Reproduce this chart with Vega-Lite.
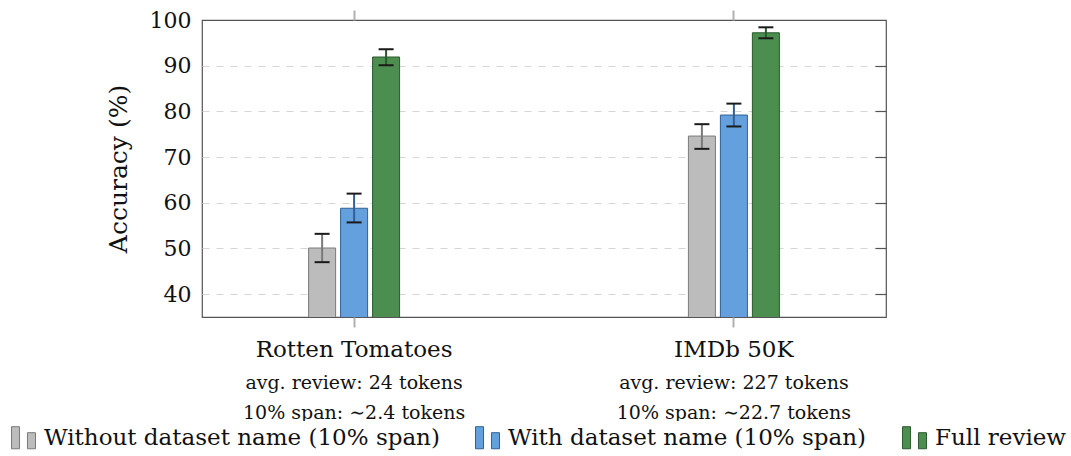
{
  "$schema": "https://vega.github.io/schema/vega-lite/v6.json",
  "width": 684,
  "height": 297,
  "autosize": {"type": "none"},
  "padding": {"left": 202, "top": 20, "right": 185, "bottom": 139},
  "background": "white",
  "config": {
    "view": {"stroke": "#555555", "strokeWidth": 1.2},
    "font": "DejaVu Serif",
    "legend": {
      "orient": "none",
      "legendX": -195,
      "legendY": 401,
      "direction": "horizontal",
      "columns": 3,
      "symbolType": "M-1,-0.92H-0.33V0.92H-1Z M0.33,-0.42H1V0.92H0.33Z",
      "symbolSize": 576,
      "symbolStrokeWidth": 1,
      "symbolOpacity": 1,
      "labelFont": "DejaVu Serif",
      "labelFontSize": 23,
      "labelColor": "#111111",
      "labelOffset": 8,
      "labelLimit": 1000,
      "columnPadding": 33,
      "fillColor": "white",
      "padding": 4
    }
  },
  "data": {
    "values": [
      {"dataset": "Rotten Tomatoes", "series": "Without dataset name (10% span)", "acc": 50.1, "lo": 47.0, "hi": 53.2},
      {"dataset": "Rotten Tomatoes", "series": "With dataset name (10% span)", "acc": 58.8, "lo": 55.7, "hi": 62.0},
      {"dataset": "Rotten Tomatoes", "series": "Full review", "acc": 91.9, "lo": 90.1, "hi": 93.6},
      {"dataset": "IMDb 50K", "series": "Without dataset name (10% span)", "acc": 74.6, "lo": 71.8, "hi": 77.2},
      {"dataset": "IMDb 50K", "series": "With dataset name (10% span)", "acc": 79.2, "lo": 76.7, "hi": 81.7},
      {"dataset": "IMDb 50K", "series": "Full review", "acc": 97.2, "lo": 96.0, "hi": 98.4}
    ]
  },
  "layer": [
    {
      "mark": {"type": "bar", "strokeWidth": 1, "clip": true},
      "encoding": {
        "x": {"field": "dataset", "type": "nominal", "sort": ["Rotten Tomatoes", "IMDb 50K"],
          "scale": {"paddingInner": 0.747, "paddingOuter": 0.274},
          "axis": {"orient": "bottom", "title": null, "labelAngle": 0, "labelFont": "DejaVu Serif", "labelFontSize": 23, "labelColor": "#111111", "labelLimit": 1000, "domain": false, "ticks": true, "tickSize": 10, "tickColor": "#b0b0b0", "tickWidth": 2, "labelPadding": 11, "grid": false, "bandPosition": 0.5}},
        "xOffset": {"field": "series", "type": "nominal", "sort": ["Without dataset name (10% span)", "With dataset name (10% span)", "Full review"],
          "scale": {"paddingInner": 0.156, "paddingOuter": 0.08}},
        "y": {"field": "acc", "type": "quantitative",
          "scale": {"domain": [35, 100], "nice": false, "zero": false},
          "axis": {"orient": "left", "values": [40, 50, 60, 70, 80, 90, 100], "title": "Accuracy (%)", "titleFont": "DejaVu Serif", "titleFontSize": 25, "titleFontWeight": "normal", "titleColor": "#111111", "titlePadding": 18, "labelFont": "DejaVu Serif", "labelFontSize": 22, "labelColor": "#111111", "labelPadding": 11, "ticks": false, "domain": false, "grid": true, "gridDash": [7, 7],
            "gridColor": {"condition": {"test": "datum.value === 100", "value": "transparent"}, "value": "#d6d6d6"}, "gridWidth": 1}},
        "fill": {"field": "series", "type": "nominal", "title": null,
          "scale": {"domain": ["Without dataset name (10% span)", "With dataset name (10% span)", "Full review"], "range": ["#bcbcbc", "#63a0dd", "#4b8e4f"]}},
        "stroke": {"field": "series", "type": "nominal", "title": null,
          "scale": {"domain": ["Without dataset name (10% span)", "With dataset name (10% span)", "Full review"], "range": ["#7a7a7a", "#335f94", "#2a5a2d"]}}
      }
    },
    {
      "mark": {"type": "rule", "strokeWidth": 2},
      "encoding": {
        "x": {"field": "dataset", "type": "nominal", "sort": ["Rotten Tomatoes", "IMDb 50K"],
          "axis": {"orient": "bottom", "title": null, "labelAngle": 0, "labelFont": "DejaVu Serif", "labelFontSize": 19, "labelColor": "#111111", "labelLimit": 1000, "labelLineHeight": 30, "labelPadding": 56, "ticks": false, "domain": false, "grid": false,
            "labelExpr": "datum.value == 'Rotten Tomatoes' ? ['avg. review: 24 tokens', '10% span: ∼2.4 tokens'] : ['avg. review: 227 tokens', '10% span: ∼22.7 tokens']"}},
        "xOffset": {"field": "series", "type": "nominal", "sort": ["Without dataset name (10% span)", "With dataset name (10% span)", "Full review"]},
        "y": {"field": "lo", "type": "quantitative",
          "axis": {"orient": "right", "offset": -11, "labels": false, "title": null, "domain": false, "grid": false, "ticks": true, "tickSize": 11, "tickColor": "#555555", "tickWidth": 1.2, "values": [40, 50, 60, 70, 80, 90]}},
        "y2": {"field": "hi"},
        "stroke": {"field": "series", "type": "nominal", "title": null}
      }
    },
    {
      "mark": {"type": "tick", "size": 15, "thickness": 2, "color": "#1a1a1a", "opacity": 1, "orient": "horizontal"},
      "encoding": {
        "x": {"field": "dataset", "type": "nominal", "sort": ["Rotten Tomatoes", "IMDb 50K"],
          "axis": {"orient": "top", "title": null, "labels": false, "domain": false, "grid": false, "ticks": true, "tickSize": 10, "tickColor": "#b0b0b0", "tickWidth": 2, "bandPosition": 0.5}},
        "xOffset": {"field": "series", "type": "nominal", "sort": ["Without dataset name (10% span)", "With dataset name (10% span)", "Full review"]},
        "y": {"field": "lo", "type": "quantitative", "axis": null}
      }
    },
    {
      "mark": {"type": "tick", "size": 15, "thickness": 2, "color": "#1a1a1a", "opacity": 1, "orient": "horizontal"},
      "encoding": {
        "x": {"field": "dataset", "type": "nominal", "sort": ["Rotten Tomatoes", "IMDb 50K"], "axis": null},
        "xOffset": {"field": "series", "type": "nominal", "sort": ["Without dataset name (10% span)", "With dataset name (10% span)", "Full review"]},
        "y": {"field": "hi", "type": "quantitative", "axis": null}
      }
    }
  ],
  "resolve": {"axis": {"x": "independent", "y": "independent"}}
}
